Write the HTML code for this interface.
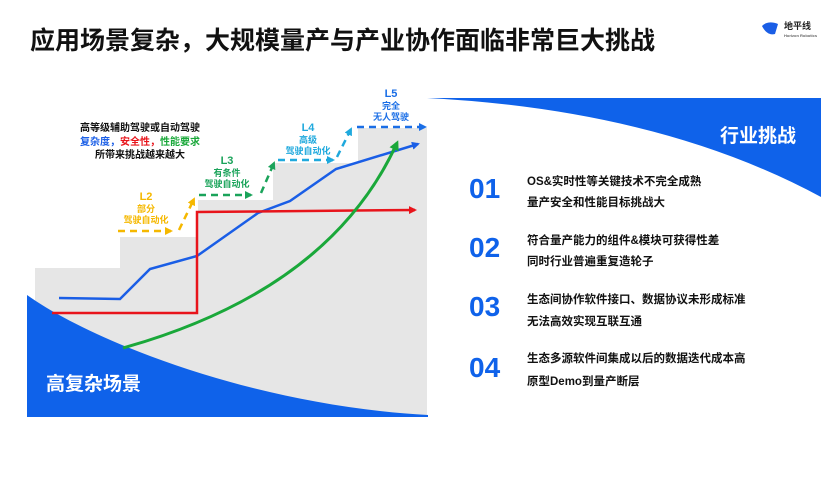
<!DOCTYPE html>
<html><head><meta charset="utf-8"><style>
body{margin:0;width:840px;height:472px;background:#fff;overflow:hidden}
svg text{font-family:"Liberation Sans","Noto Sans CJK SC",sans-serif;font-weight:bold}
</style></head><body>
<svg width="840" height="472" viewBox="0 0 840 472" xmlns="http://www.w3.org/2000/svg">
<defs>
<marker id="ab" markerWidth="8" markerHeight="8" refX="6" refY="4" orient="auto" markerUnits="userSpaceOnUse"><path d="M0,0 L8,4 L0,8 z" fill="#1a5ee6"/></marker>
<marker id="ar" markerWidth="8" markerHeight="8" refX="6" refY="4" orient="auto" markerUnits="userSpaceOnUse"><path d="M0,0 L8,4 L0,8 z" fill="#e8141b"/></marker>
<marker id="ag" markerWidth="10" markerHeight="10" refX="7" refY="5" orient="auto" markerUnits="userSpaceOnUse"><path d="M0,0 L10,5 L0,10 z" fill="#1aa83a"/></marker>
<marker id="ay" markerWidth="8" markerHeight="8" refX="6" refY="4" orient="auto" markerUnits="userSpaceOnUse"><path d="M0,0 L8,4 L0,8 z" fill="#f5b800"/></marker>
<marker id="adg" markerWidth="8" markerHeight="8" refX="6" refY="4" orient="auto" markerUnits="userSpaceOnUse"><path d="M0,0 L8,4 L0,8 z" fill="#1aa35a"/></marker>
<marker id="ac" markerWidth="8" markerHeight="8" refX="6" refY="4" orient="auto" markerUnits="userSpaceOnUse"><path d="M0,0 L8,4 L0,8 z" fill="#1fa9dd"/></marker>
<marker id="ad" markerWidth="8" markerHeight="8" refX="6" refY="4" orient="auto" markerUnits="userSpaceOnUse"><path d="M0,0 L8,4 L0,8 z" fill="#1a6ee6"/></marker>
</defs>
<text x="30" y="49" font-size="25" fill="#111">应用场景复杂，大规模量产与产业协作面临非常巨大挑战</text>
<path d="M762,26 q6,-6 16,-2 l-3,10 q-8,2 -13,-8z" fill="#1a5ee6"/>
<text x="784" y="29" font-size="9" fill="#222">地平线</text>
<text x="784" y="37" font-size="4" fill="#666">Horizon Robotics</text>
<path d="M35,268 H120 V237 H198 V200 H273 V163 H358 V128 H427 V415 H35 Z" fill="#e6e6e6"/>
<text x="63" y="248" font-size="10" fill="#fff" text-anchor="middle">L1</text>
<text x="63" y="261" font-size="9" fill="#fff" text-anchor="middle">驾驶员辅助</text>
<path d="M27,295 C90,340 250,405 428,415 L428,417 L27,417 Z" fill="#0f62ea"/>
<text x="46" y="390" font-size="19" fill="#fff">高复杂场景</text>
<path d="M427,98 L821,98 L821,197 Q660,110 427,98 Z" fill="#0f62ea"/>
<text x="720" y="142" font-size="19" fill="#fff">行业挑战</text>
<polyline points="59,298 120,299 150,269 197,256 258,213 290,201 336,169 418,144" fill="none" stroke="#1a5ee6" stroke-width="2.5" marker-end="url(#ab)"/>
<polyline points="52,313 197,313 197,212 415,210" fill="none" stroke="#e8141b" stroke-width="2.5" marker-end="url(#ar)"/>
<path d="M123,348 Q330,290 397,143" fill="none" stroke="#1aa83a" stroke-width="3" marker-end="url(#ag)"/>
<g fill="none" stroke-width="2.5" stroke-dasharray="7,5">
<line x1="118" y1="231" x2="171" y2="231" stroke="#f5b800" marker-end="url(#ay)"/>
<line x1="179" y1="230" x2="194" y2="199" stroke="#f5b800" marker-end="url(#ay)"/>
<line x1="199" y1="195" x2="251" y2="195" stroke="#1aa35a" marker-end="url(#adg)"/>
<line x1="261" y1="193" x2="274" y2="163" stroke="#1aa35a" marker-end="url(#adg)"/>
<line x1="278" y1="160" x2="333" y2="160" stroke="#1fa9dd" marker-end="url(#ac)"/>
<line x1="337" y1="157" x2="351" y2="129" stroke="#1fa9dd" marker-end="url(#ac)"/>
<line x1="357" y1="127" x2="425" y2="127" stroke="#1a6ee6" marker-end="url(#ad)"/>
</g>
<g text-anchor="middle">
<text x="146" y="200" font-size="11" fill="#f5b800">L2</text>
<text x="146" y="212" font-size="9" fill="#f5b800">部分</text>
<text x="146" y="223" font-size="9" fill="#f5b800">驾驶自动化</text>
<text x="227" y="164" font-size="11" fill="#1aa35a">L3</text>
<text x="227" y="176" font-size="9" fill="#1aa35a">有条件</text>
<text x="227" y="187" font-size="9" fill="#1aa35a">驾驶自动化</text>
<text x="308" y="131" font-size="11" fill="#1fa9dd">L4</text>
<text x="308" y="143" font-size="9" fill="#1fa9dd">高级</text>
<text x="308" y="154" font-size="9" fill="#1fa9dd">驾驶自动化</text>
<text x="391" y="97" font-size="11" fill="#1a6ee6">L5</text>
<text x="391" y="109" font-size="9" fill="#1a6ee6">完全</text>
<text x="391" y="120" font-size="9" fill="#1a6ee6">无人驾驶</text>
<text x="140" y="131" font-size="10" fill="#111">高等级辅助驾驶或自动驾驶</text>
<text x="140" y="145" font-size="10"><tspan fill="#1a5ee6">复杂度，</tspan><tspan fill="#e8141b">安全性，</tspan><tspan fill="#1aa83a">性能要求</tspan></text>
<text x="140" y="158" font-size="10" fill="#111">所带来挑战越来越大</text>
</g>
<g font-size="28" fill="#0f62ea">
<text x="469" y="198">01</text><text x="469" y="257">02</text><text x="469" y="316">03</text><text x="469" y="377">04</text>
</g>
<g font-size="11.5" fill="#111">
<text x="527" y="185">OS&amp;实时性等关键技术不完全成熟</text>
<text x="527" y="206">量产安全和性能目标挑战大</text>
<text x="527" y="244">符合量产能力的组件&amp;模块可获得性差</text>
<text x="527" y="265">同时行业普遍重复造轮子</text>
<text x="527" y="303">生态间协作软件接口、数据协议未形成标准</text>
<text x="527" y="325">无法高效实现互联互通</text>
<text x="527" y="362">生态多源软件间集成以后的数据迭代成本高</text>
<text x="527" y="385">原型Demo到量产断层</text>
</g>
</svg>
</body></html>
